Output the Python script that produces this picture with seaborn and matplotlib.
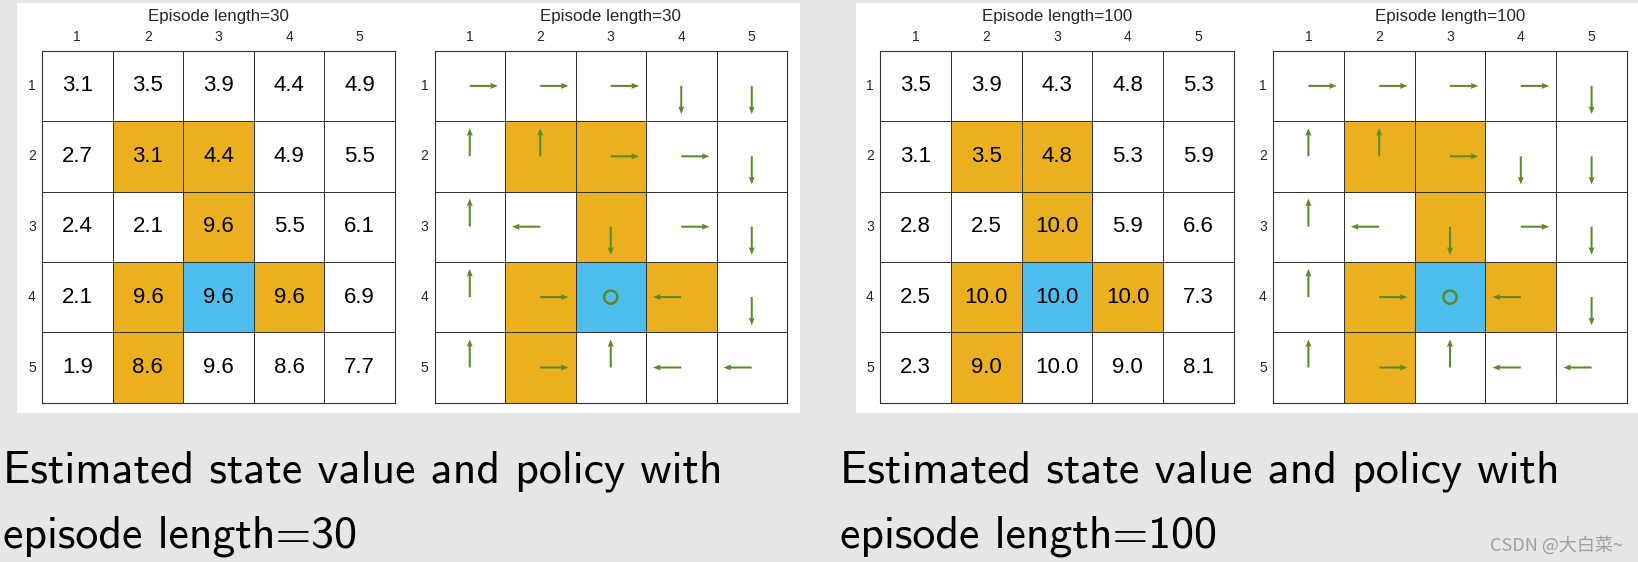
import matplotlib
matplotlib.use("Agg")
import matplotlib.pyplot as plt
import seaborn as sns
import numpy as np
import pandas as pd
from matplotlib.colors import ListedColormap
from matplotlib.patches import Rectangle

# ---- data ----
rows = [1, 2, 3, 4, 5]
cols = [1, 2, 3, 4, 5]

# 0 = normal cell, 1 = forbidden cell, 2 = target cell
cell_type = [
    [0, 0, 0, 0, 0],
    [0, 1, 1, 0, 0],
    [0, 0, 1, 0, 0],
    [0, 1, 2, 1, 0],
    [0, 1, 0, 0, 0],
]

values_30 = [
    [3.1, 3.5, 3.9, 4.4, 4.9],
    [2.7, 3.1, 4.4, 4.9, 5.5],
    [2.4, 2.1, 9.6, 5.5, 6.1],
    [2.1, 9.6, 9.6, 9.6, 6.9],
    [1.9, 8.6, 9.6, 8.6, 7.7],
]
values_100 = [
    [3.5, 3.9, 4.3, 4.8, 5.3],
    [3.1, 3.5, 4.8, 5.3, 5.9],
    [2.8, 2.5, 10.0, 5.9, 6.6],
    [2.5, 10.0, 10.0, 10.0, 7.3],
    [2.3, 9.0, 10.0, 9.0, 8.1],
]

# R right, L left, U up, D down, O stay
policy_30 = ["RRRDD", "UURRD", "ULDRD", "UROLD", "URULL"]
policy_100 = ["RRRRD", "UURDD", "ULDRD", "UROLD", "URULL"]

episode_lengths = [30, 100]
captions = ["Estimated state value and policy with",
            "Estimated state value and policy with"]

# ---- style ----
sns.set_theme(style="white")
plt.rcParams["font.family"] = ["Liberation Sans", "DejaVu Sans"]

W, H = 1638, 562
fig = plt.figure(figsize=(W / 100, H / 100), dpi=100)
fig.patch.set_facecolor("#e6e6e6")

orange = "#ebb01f"
blue = "#4dbeee"
green = "#5b8a26"
line_col = "#333333"
cell_cmap = ListedColormap(["white", orange, blue])
moves = {"R": (1, 0), "L": (-1, 0), "U": (0, -1), "D": (0, 1)}
arrow_len = 0.4

types_df = pd.DataFrame(cell_type, index=rows, columns=cols)


def px_axes(x0, y0, x1, y1):
    return fig.add_axes([x0 / W, 1 - y1 / H, (x1 - x0) / W, (y1 - y0) / H])


def draw_grid(ax, title, annot=None):
    sns.heatmap(types_df, cmap=cell_cmap, vmin=-0.5, vmax=2.5,
                annot=annot, fmt="", cbar=False,
                linewidths=0.7, linecolor=line_col,
                annot_kws={"fontsize": 16, "color": "black"}, ax=ax)
    ax.xaxis.tick_top()
    ax.tick_params(axis="both", length=0, labelsize=10)
    ax.tick_params(axis="x", pad=5)
    ax.tick_params(axis="y", pad=4.5, rotation=0)
    ax.set_xlabel("")
    ax.set_ylabel("")
    for sp in ax.spines.values():
        sp.set_visible(True)
        sp.set_color(line_col)
        sp.set_linewidth(0.8)
    ax.text(0.5, 1.097, title, transform=ax.transAxes,
            ha="center", va="center", fontsize=12.2)


def draw_policy(ax, policy):
    xs, ys, us, vs = [], [], [], []
    for r, row in enumerate(policy):
        for c, a in enumerate(row):
            if a == "O":
                ax.scatter([c + 0.5], [r + 0.5], s=90, facecolors="none",
                           edgecolors=green, linewidths=1.8, zorder=3)
                continue
            dx, dy = moves[a]
            xs.append(c + 0.5)
            ys.append(r + 0.5)
            us.append(dx * arrow_len)
            vs.append(dy * arrow_len)
    ax.quiver(xs, ys, us, vs, angles="xy", scale_units="xy", scale=1,
              color=green, width=0.0057, headwidth=3, headlength=3.8,
              headaxislength=3.4, zorder=3)


# white panels behind the two figure halves
fig.add_artist(Rectangle((17.3 / W, 1 - 413 / H), (800 - 17.3) / W, (413 - 2.7) / H,
                         transform=fig.transFigure, facecolor="white",
                         edgecolor="none", zorder=0))
fig.add_artist(Rectangle((856 / W, 1 - 413 / H), (W - 856) / W, (413 - 2.7) / H,
                         transform=fig.transFigure, facecolor="white",
                         edgecolor="none", zorder=0))

value_sets = [values_30, values_100]
policy_sets = [policy_30, policy_100]
value_x = [(42, 395), (880, 1234)]
policy_x = [(434.5, 787), (1273, 1627)]
caption_x = [2.6, 840]
top, bottom = 50.7, 402.7

for k, ep in enumerate(episode_lengths):
    title = f"Episode length={ep}"
    labels = np.array([[f"{v:.1f}" for v in row] for row in value_sets[k]])

    ax_v = px_axes(value_x[k][0], top, value_x[k][1], bottom)
    draw_grid(ax_v, title, annot=labels)

    ax_p = px_axes(policy_x[k][0], top, policy_x[k][1], bottom)
    draw_grid(ax_p, title)
    draw_policy(ax_p, policy_sets[k])

    fig.text(caption_x[k] / W, 1 - 482.3 / H, captions[k], family="cmss10",
             fontsize=33, ha="left", va="baseline", color="black")
    fig.text(caption_x[k] / W, 1 - 547.7 / H, f"episode length={ep}", family="cmss10",
             fontsize=33, ha="left", va="baseline", color="black")

fig.text(1623 / W, 1 - 545 / H, "CSDN @大白菜~", ha="right", va="center",
         fontsize=13, color="#a0a0a0", family=["Noto Sans CJK SC", "DejaVu Sans"])

fig.savefig("out.png", dpi=100, facecolor=fig.get_facecolor())
